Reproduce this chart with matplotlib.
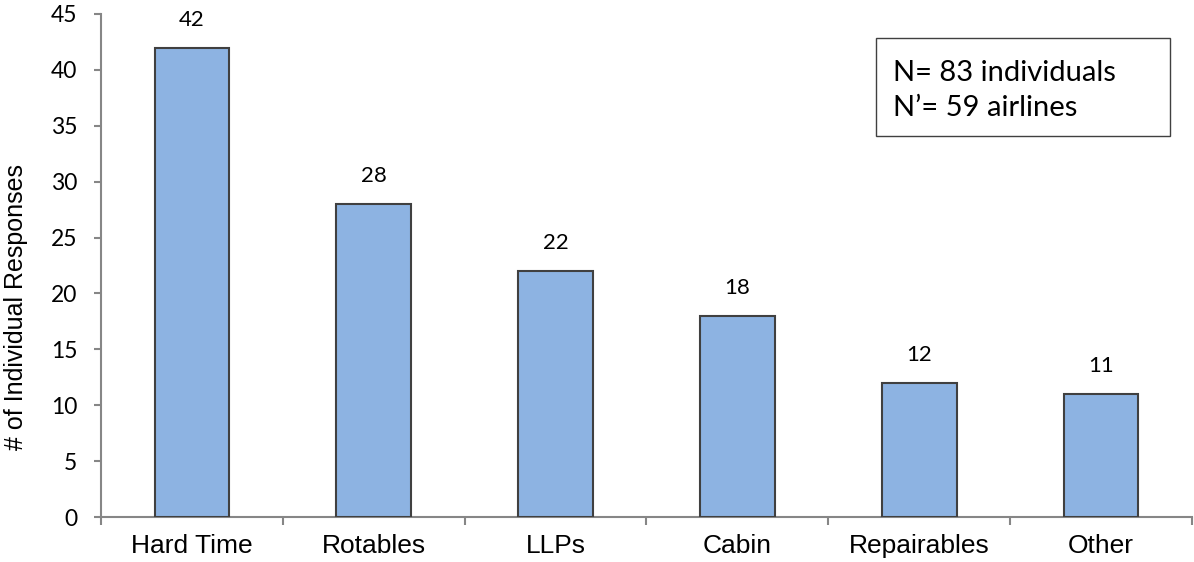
import numpy as np
import matplotlib.pyplot as plt
from matplotlib.patches import Rectangle

categories = ["Hard Time", "Rotables", "LLPs", "Cabin", "Repairables", "Other"]
responses = [42, 28, 22, 18, 12, 11]
y_ticks = [0, 5, 10, 15, 20, 25, 30, 35, 40, 45]

axis_grey = "#868686"

fig = plt.figure(figsize=(11.94, 5.62), dpi=100)
ax = fig.add_axes([101 / 1194, 45 / 562, 1091 / 1194, 503 / 562])

x = np.arange(len(categories))
ax.bar(x, responses, width=0.41, color="#8DB3E2", edgecolor="#404040", linewidth=1.5, zorder=3)

# value labels above each bar
for xi, v in zip(x, responses):
    ax.text(xi, v + 2.5, str(v), ha="center", va="center", fontsize=16, family="Lato")

ax.set_xlim(-0.5, len(categories) - 0.5)
ax.set_ylim(0, 45)
ax.set_yticks(y_ticks)
ax.set_yticklabels([str(t) for t in y_ticks], fontsize=16.5, family="Lato")

# category labels centred, tick marks sitting on the boundaries
ax.set_xticks(x)
ax.set_xticklabels(categories, fontsize=19, family="Liberation Sans")
ax.tick_params(axis="x", length=0, pad=12)
ax.set_xticks(np.arange(len(categories) + 1) - 0.5, minor=True)
ax.tick_params(axis="x", which="minor", length=6, color=axis_grey, width=1.5)
ax.tick_params(axis="y", length=5, color=axis_grey, width=1.5, pad=12)

for side in ["top", "right"]:
    ax.spines[side].set_visible(False)
for side in ["left", "bottom"]:
    ax.spines[side].set_color(axis_grey)
    ax.spines[side].set_linewidth(1.5)

fig.text(16 / 1194, 1 - 307 / 562, "# of Individual Responses", rotation=90,
         ha="center", va="center", fontsize=18, family="Liberation Sans")

# sample size note
ax.add_patch(Rectangle((0.7104, 0.7575), 0.2696, 0.1945, transform=ax.transAxes,
                       facecolor="white", edgecolor="#404040", linewidth=1, zorder=4))
ax.text(0.726, 0.8827, "N= 83 individuals", transform=ax.transAxes,
        ha="left", va="center", fontsize=21, family="Lato", zorder=5)
ax.text(0.726, 0.813, "N\u2019= 59 airlines", transform=ax.transAxes,
        ha="left", va="center", fontsize=21, family="Lato", zorder=5)

fig.savefig("out.png", dpi=100)
